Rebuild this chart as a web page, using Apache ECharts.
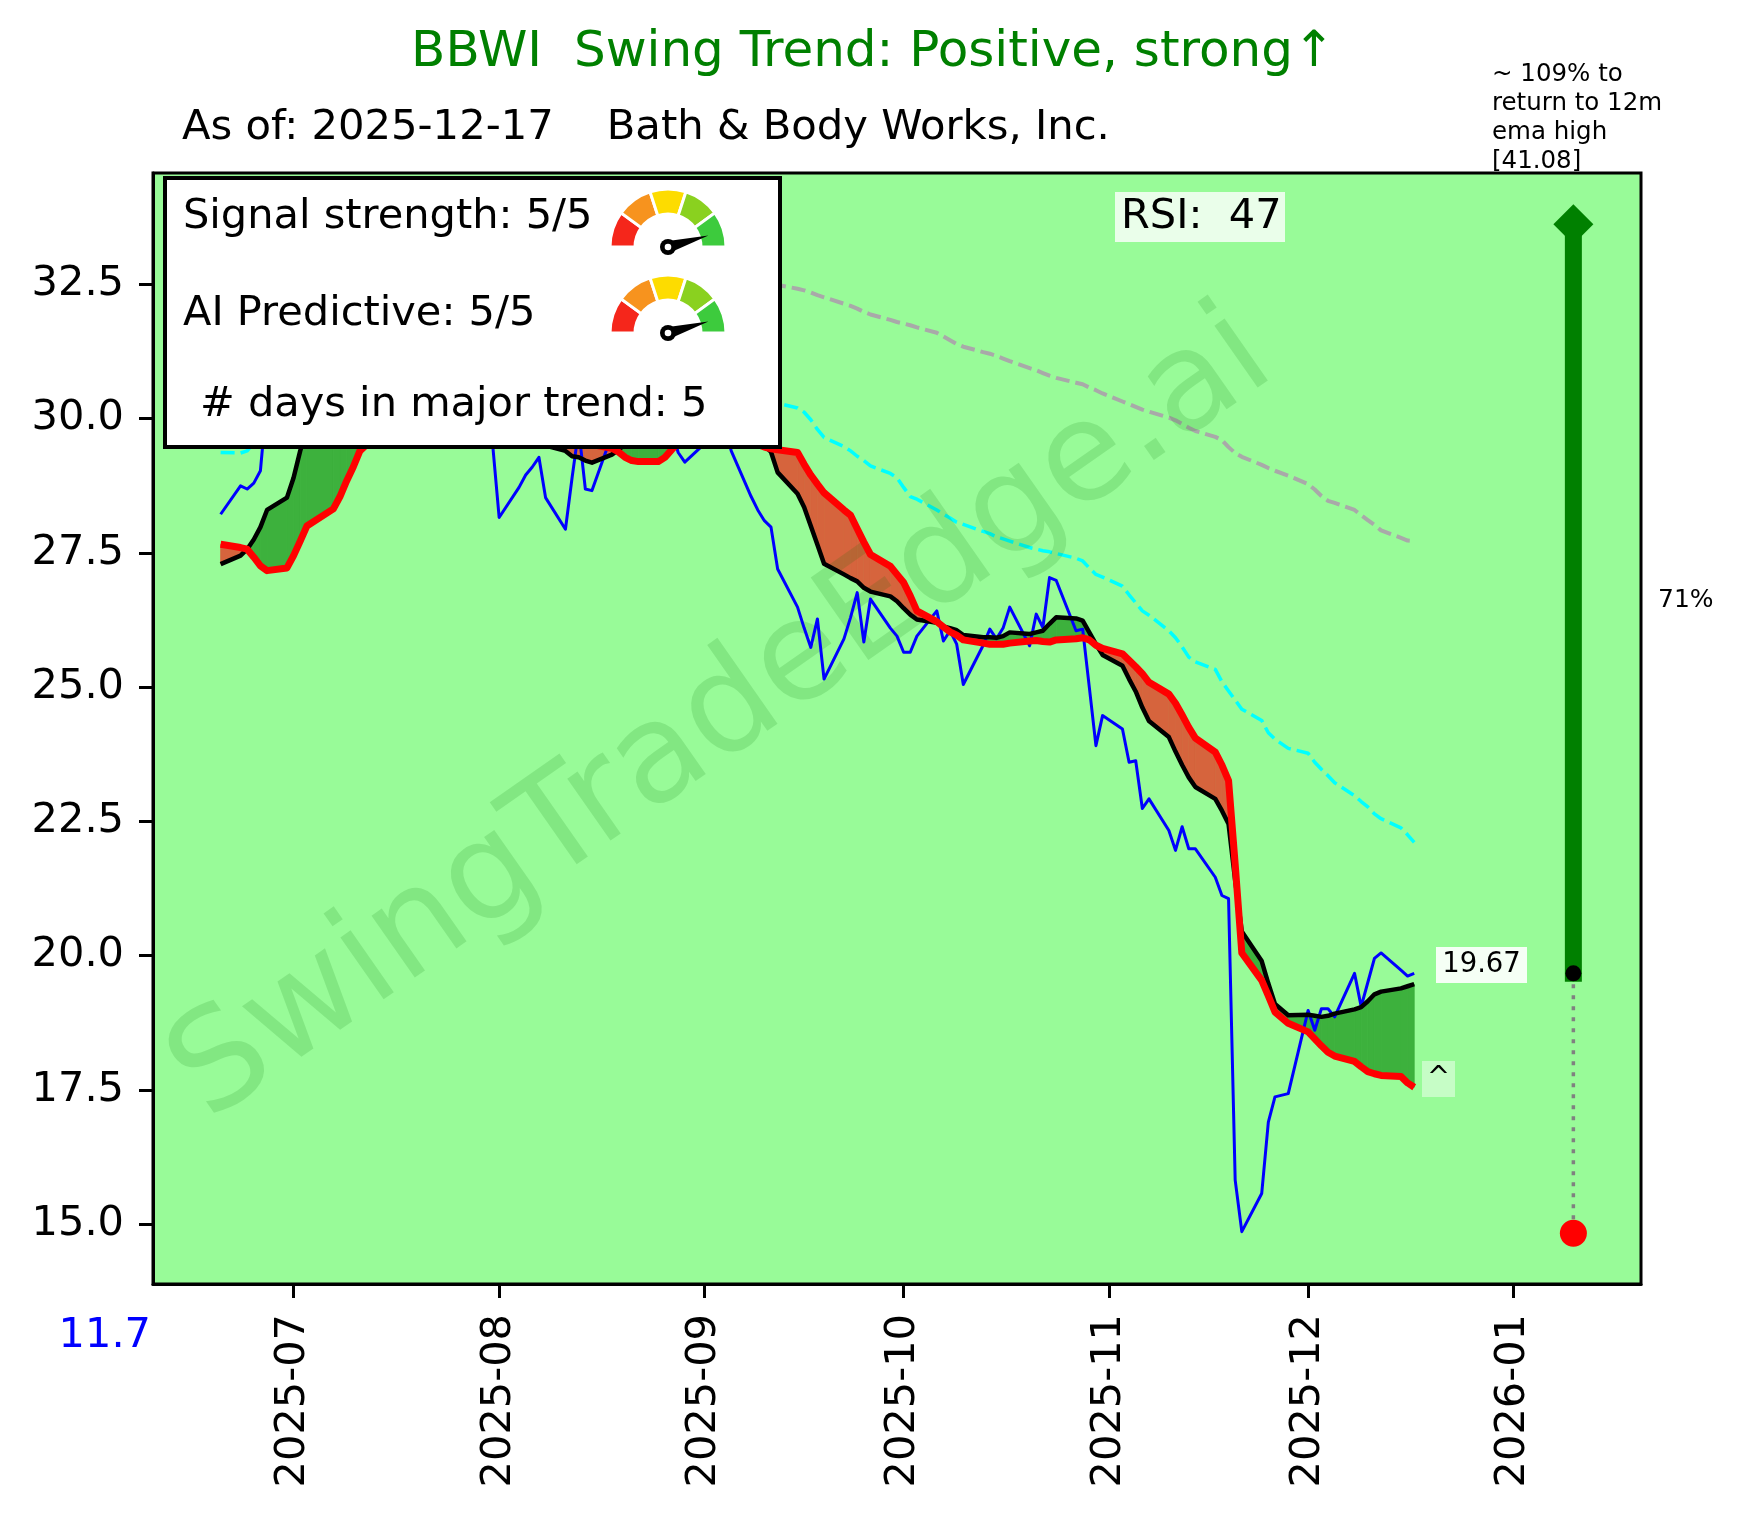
<!DOCTYPE html>
<html><head><meta charset="utf-8">
<script src="https://cdn.jsdelivr.net/npm/echarts@6/dist/echarts.min.js"></script>
<style>html,body{margin:0;padding:0;background:#fff}#chart{width:1746px;height:1515px}</style>
</head><body><div id="chart"></div>
<script>
const FONT = 'DejaVu Sans';

// ---- categories: trading days per month ----
const tradingDays = [
  ['2025-06', [20,23,24,25,26,27,30]],
  ['2025-07', [1,2,3,7,8,9,10,11,14,15,16,17,18,21,22,23,24,25,28,29,30,31]],
  ['2025-08', [1,4,5,6,7,8,11,12,13,14,15,18,19,20,21,22,25,26,27,28,29]],
  ['2025-09', [2,3,4,5,8,9,10,11,12,15,16,17,18,19,22,23,24,25,26,29,30]],
  ['2025-10', [1,2,3,6,7,8,9,10,13,14,15,16,17,20,21,22,23,24,27,28,29,30,31]],
  ['2025-11', [3,4,5,6,7,10,11,12,13,14,17,18,19,20,21,24,25,26,28]],
  ['2025-12', [1,2,3,4,5,8,9,10,11,12,15,16,17]]
];

// ---- series values ----
const closePrice = [
  28.22,28.75,28.69,28.80,29.03,30.40,30.60,
  30.90,31.40,31.60,31.00,31.30,31.80,32.00,31.50,31.70,31.20,31.60,31.90,31.40,31.00,31.30,31.80,31.20,31.00,30.60,30.30,30.20,29.55,
  28.16,28.72,28.95,29.10,29.28,28.53,27.94,28.90,29.80,28.69,28.66,29.70,29.90,30.00,29.80,30.20,29.90,29.70,29.80,29.37,29.19,
  29.65,29.80,29.90,29.40,28.55,28.30,28.10,27.98,27.20,26.49,26.10,25.74,26.27,25.15,25.90,26.30,26.76,25.84,26.64,26.10,25.95,
  25.65,25.65,25.95,26.42,25.86,26.05,25.80,25.05,25.78,26.08,25.90,26.10,26.49,25.77,26.36,26.11,27.04,26.99,26.05,26.08,25.00,23.91,24.47,
  24.22,23.60,23.63,22.74,22.92,22.33,21.96,22.40,21.99,21.99,21.46,21.12,21.06,15.82,14.86,15.57,16.90,17.37,17.43,
  18.98,18.61,19.01,19.01,18.86,19.67,19.05,19.50,19.95,20.05,19.73,19.62,19.67
];
const emaFast = [
  27.29,27.45,27.57,27.75,27.98,28.30,28.53,
  28.90,29.40,29.80,30.20,30.50,30.80,31.00,31.10,31.20,31.20,31.30,31.40,31.40,31.30,31.30,31.40,31.30,31.20,31.00,30.80,30.60,30.30,
  30.00,29.80,29.70,29.62,29.58,29.50,29.40,29.30,29.28,29.22,29.18,29.33,29.42,29.52,29.58,29.62,29.62,29.60,29.60,29.58,29.55,
  29.62,29.70,29.75,29.70,29.60,29.55,29.50,29.38,29.00,28.60,28.35,28.00,27.65,27.30,27.10,27.03,26.97,26.85,26.78,26.69,26.60,
  26.47,26.35,26.26,26.20,26.13,26.10,26.06,25.97,25.93,25.93,25.92,25.95,26.02,25.99,26.02,26.05,26.18,26.30,26.28,26.24,26.02,25.80,25.60,
  25.40,25.15,24.92,24.62,24.37,24.07,23.80,23.55,23.32,23.14,22.92,22.70,22.45,21.40,20.45,19.90,19.48,19.10,18.89,
  18.90,18.88,18.86,18.88,18.92,19.00,19.04,19.15,19.28,19.33,19.39,19.43,19.47
];
const emaSlow = [
  27.66,27.60,27.57,27.42,27.26,27.17,27.22,
  27.45,27.72,28.00,28.32,28.55,28.84,29.10,29.40,29.75,30.00,30.20,30.40,30.50,30.60,30.70,30.80,30.80,30.80,30.75,30.70,30.60,30.50,
  30.40,30.30,30.20,30.10,30.00,29.90,29.80,29.70,29.62,29.56,29.52,29.45,29.38,29.28,29.22,29.20,29.20,29.28,29.42,29.55,29.62,
  29.68,29.72,29.72,29.68,29.58,29.52,29.47,29.44,29.42,29.37,29.15,28.95,28.78,28.62,28.30,28.20,27.95,27.70,27.47,27.25,27.10,
  26.95,26.70,26.42,26.22,26.12,26.03,25.97,25.88,25.82,25.80,25.80,25.80,25.82,25.86,25.87,25.85,25.84,25.88,25.90,25.92,25.88,25.78,25.72,
  25.62,25.50,25.38,25.25,25.09,24.87,24.70,24.48,24.25,24.05,23.79,23.55,23.26,21.70,20.05,19.54,19.25,18.95,18.74,
  18.58,18.45,18.32,18.20,18.13,18.03,17.93,17.84,17.80,17.77,17.75,17.63,17.55
];
const maMid = [
  29.37,29.36,29.40,29.55,29.62,29.66,29.70,
  29.75,29.80,29.85,29.90,29.95,30.00,30.05,30.10,30.15,30.20,30.25,30.30,30.35,30.40,30.45,30.50,30.50,30.55,30.55,30.60,30.60,30.60,
  30.62,30.62,30.64,30.65,30.66,30.67,30.68,30.70,30.70,30.70,30.70,30.70,30.68,30.66,30.64,30.62,30.60,30.58,30.55,30.52,30.50,
  30.48,30.45,30.43,30.40,30.38,30.35,30.33,30.31,30.29,30.20,30.12,29.98,29.80,29.65,29.48,29.40,29.30,29.22,29.12,28.98,28.90,
  28.72,28.55,28.50,28.30,28.22,28.15,28.07,28.03,27.90,27.86,27.80,27.76,27.72,27.60,27.57,27.54,27.52,27.49,27.40,27.35,27.22,27.10,27.05,
  26.88,26.72,26.57,26.42,26.34,26.05,25.92,25.75,25.56,25.47,25.33,25.10,24.93,24.76,24.59,24.38,24.15,24.03,23.86,
  23.77,23.60,23.47,23.35,23.22,22.98,22.87,22.77,22.64,22.55,22.38,22.25,22.11
];
const maLong = [
  null,null,null,null,null,null,null,
  null,null,null,null,null,null,null,null,null,null,null,null,null,null,null,null,null,null,null,null,null,null,
  null,null,null,null,null,null,null,null,null,null,null,null,null,null,null,null,33.20,33.15,33.10,33.05,33.00,
  32.90,32.85,32.80,32.75,32.65,32.60,32.56,32.52,32.49,32.42,32.39,32.35,32.30,32.26,32.14,32.10,32.05,31.99,31.94,31.84,31.80,
  31.77,31.74,31.70,31.60,31.53,31.46,31.39,31.34,31.24,31.21,31.17,31.12,31.07,30.94,30.90,30.85,30.80,30.76,30.67,30.64,30.58,30.53,30.47,
  30.32,30.27,30.22,30.17,30.13,30.02,29.97,29.90,29.83,29.77,29.66,29.60,29.47,29.36,29.29,29.14,29.08,29.03,28.94,
  28.78,28.68,28.56,28.47,28.43,28.30,28.20,28.11,28.02,27.92,27.78,27.73,27.72
];

// ---- tick labels ----
const monthTicks = ['2025-07','2025-08','2025-09','2025-10','2025-11','2025-12','2026-01'];
const yTicks = [15.0, 17.5, 20.0, 22.5, 25.0, 27.5, 30.0, 32.5];

// ---- right-side target annotation ----
const targetDate = '2026-01-10';
const lastClose = 19.67;
const arrowTop = 33.62;
const lowMark = 14.83;

// ---- helpers ----
const toTs = (s) => { const p = s.split('-').map(Number); return new Date(p[0], p[1] - 1, p[2] || 1).getTime(); };
const dates = tradingDays.flatMap(([ym, days]) => days.map(d => toTs(ym + '-' + d)));
const pair = (arr) => dates.map((t, i) => [t, arr[i]]);
const monthTs = monthTicks.map(toTs);
const targetTs = toTs(targetDate);

function renderFill(params, api) {
  const i = params.dataIndex;
  if (i >= dates.length - 1) return null;
  const t0 = dates[i], t1 = dates[i + 1];
  const b0 = emaFast[i], b1 = emaFast[i + 1], r0 = emaSlow[i], r1 = emaSlow[i + 1];
  const d0 = b0 - r0, d1 = b1 - r1;
  const poly = (pts, pos) => ({
    type: 'polygon',
    shape: { points: pts.map(p => api.coord(p)) },
    style: { fill: pos ? '#3db13d' : '#d6643d', stroke: pos ? '#3db13d' : '#d6643d', lineWidth: 0.8 }
  });
  if (d0 * d1 >= 0) {
    const pos = (d0 + d1) >= 0;
    return poly([[t0, b0], [t1, b1], [t1, r1], [t0, r0]], pos);
  }
  const f = d0 / (d0 - d1);
  const tc = t0 + f * (t1 - t0), vc = b0 + f * (b1 - b0);
  return { type: 'group', children: [
    poly([[t0, b0], [tc, vc], [t0, r0]], d0 > 0),
    poly([[tc, vc], [t1, b1], [t1, r1]], d1 > 0)
  ]};
}

function gauge(cx, cy) {
  const colors = ['#f5261b', '#f7931e', '#fddc00', '#8ad11f', '#3dcb3d'];
  const els = [];
  for (let k = 0; k < 5; k++) {
    els.push({ type: 'sector', z: 21, shape: { cx, cy, r: 58, r0: 33,
      startAngle: Math.PI + k * Math.PI / 5, endAngle: Math.PI + (k + 1) * Math.PI / 5, clockwise: true },
      style: { fill: colors[k], stroke: '#fff', lineWidth: 3 } });
  }
  const ang = -16 * Math.PI / 180, L = 42, w = 6;
  const tx = cx + L * Math.cos(ang), ty = cy + L * Math.sin(ang);
  const px = -Math.sin(ang) * w, py = Math.cos(ang) * w;
  els.push({ type: 'polygon', z: 22, shape: { points: [[cx + px, cy + py], [tx, ty], [cx - px, cy - py]] }, style: { fill: '#000' } });
  els.push({ type: 'circle', z: 22, shape: { cx, cy, r: 8 }, style: { fill: '#000' } });
  els.push({ type: 'circle', z: 23, shape: { cx, cy, r: 3.3 }, style: { fill: '#fff' } });
  return els;
}

const txt = (text, x, y, size, opts) => ({
  type: 'text', z: 25,
  style: Object.assign({ text, x, y, font: size + 'px "' + FONT + '"', fill: '#000', align: 'left', verticalAlign: 'middle' }, opts || {})
});

const chart = echarts.init(document.getElementById('chart'), null, { renderer: 'canvas' });
chart.setOption({
  animation: false,
  textStyle: { fontFamily: FONT },
  grid: { left: 153, right: 105, top: 173, bottom: 231, show: true, backgroundColor: '#98fb98', borderColor: '#000', borderWidth: 3 },
  xAxis: {
    type: 'value',
    min: new Date(2025, 5, 9, 19, 12).getTime(),
    max: new Date(2026, 0, 20, 4, 48).getTime(),
    axisLine: { show: true, lineStyle: { color: '#000', width: 3 } },
    axisTick: { show: true, length: 14, lineStyle: { color: '#000', width: 3 }, customValues: monthTs },
    axisLabel: { customValues: monthTs, rotate: 90, margin: 30, fontSize: 41.5, fontFamily: FONT, color: '#000',
      formatter: (v) => { const d = new Date(v); return d.getFullYear() + '-' + String(d.getMonth() + 1).padStart(2, '0'); } },
    splitLine: { show: false }
  },
  yAxis: {
    type: 'value', min: 13.885, max: 34.575,
    axisLine: { show: true, lineStyle: { color: '#000', width: 3 } },
    axisTick: { show: true, length: 14, lineStyle: { color: '#000', width: 3 }, customValues: yTicks },
    axisLabel: { customValues: yTicks, margin: 29, fontSize: 41.5, fontFamily: FONT, color: '#000', formatter: (v) => Number(v).toFixed(1) },
    splitLine: { show: false }
  },
  series: [
    { type: 'custom', z: 1, renderItem: renderFill, data: dates.map((t, i) => [t, emaFast[i], emaSlow[i]]), encode: { x: 0, y: [1, 2] }, silent: true },
    { type: 'line', z: 2, data: pair(maMid), showSymbol: false, lineStyle: { color: '#00ffff', width: 3.5, type: [14, 6] } },
    { type: 'line', z: 2, data: pair(maLong), showSymbol: false, lineStyle: { color: '#a9a9a9', width: 4, type: [14, 6] } },
    { type: 'line', z: 3, data: pair(closePrice), showSymbol: false, lineStyle: { color: '#0000ff', width: 3, join: 'round' } },
    { type: 'line', z: 4, data: pair(emaFast), showSymbol: false, lineStyle: { color: '#000000', width: 4.5, join: 'round' } },
    { type: 'line', z: 5, data: pair(emaSlow), showSymbol: false, lineStyle: { color: '#ff0000', width: 7, join: 'round' } },
    { type: 'line', z: 6, data: [[targetTs, lastClose], [targetTs, arrowTop]], showSymbol: false, lineStyle: { color: '#008000', width: 17, cap: 'square', opacity: 1 } },
    { type: 'line', z: 6, data: [[targetTs, lastClose], [targetTs, lowMark]], showSymbol: false, lineStyle: { color: '#808080', width: 3.5, type: [4, 7] } },
    { type: 'scatter', z: 7, data: [[targetTs, arrowTop]], symbol: 'diamond', symbolSize: 40, itemStyle: { color: '#008000', opacity: 1 } },
    { type: 'scatter', z: 8, data: [[targetTs, lastClose]], symbolSize: 16, itemStyle: { color: '#000000', opacity: 1 } },
    { type: 'scatter', z: 8, data: [[targetTs, lowMark]], symbolSize: 27, itemStyle: { color: '#ff0000', opacity: 1 } }
  ],
  graphic: [
    txt('BBWI  Swing Trend: Positive, strong\u2191', 873, 53, 50, { fill: '#008000', align: 'center' }),
    txt('As of: 2025-12-17    Bath & Body Works, Inc.', 182, 128, 41.7),
    { type: 'text', z: 2.5, x: 723, y: 718, rotation: 35 * Math.PI / 180,
      style: { text: 'SwingTradeEdge.ai', font: '138px "' + FONT + '"', fill: 'rgba(0,110,0,0.14)', align: 'center', verticalAlign: 'middle' } },
    { type: 'rect', z: 20, shape: { x: 165, y: 178, width: 615, height: 269 }, style: { fill: '#fff', stroke: '#000', lineWidth: 4 } },
    txt('Signal strength: 5/5', 183, 217, 41.5),
    txt('AI Predictive: 5/5', 183, 314, 41.5),
    txt('# days in major trend: 5', 200, 405, 41.5),
    ...gauge(668, 247),
    ...gauge(668, 333),
    { type: 'rect', z: 20, shape: { x: 1115, y: 192, width: 170, height: 50 }, style: { fill: 'rgba(255,255,255,0.8)' } },
    txt('RSI:  47', 1121, 217.5, 41.5),
    { type: 'rect', z: 20, shape: { x: 1436, y: 947, width: 91, height: 36 }, style: { fill: 'rgba(255,255,255,0.9)' } },
    txt('19.67', 1481.5, 965, 27.5, { align: 'center' }),
    { type: 'rect', z: 20, shape: { x: 1422, y: 1061, width: 33, height: 36 }, style: { fill: 'rgba(255,255,255,0.45)' } },
    txt('^', 1438.5, 1079, 27.5, { align: 'center' }),
    txt('71%', 1658, 600, 25),
    txt('~ 109% to\nreturn to 12m\nema high\n[41.08]', 1492, 60, 24.5, { verticalAlign: 'top', lineHeight: 29 }),
    txt('11.7', 151, 1336, 41.5, { fill: '#0000ff', align: 'right' })
  ]
});
</script></body></html>
